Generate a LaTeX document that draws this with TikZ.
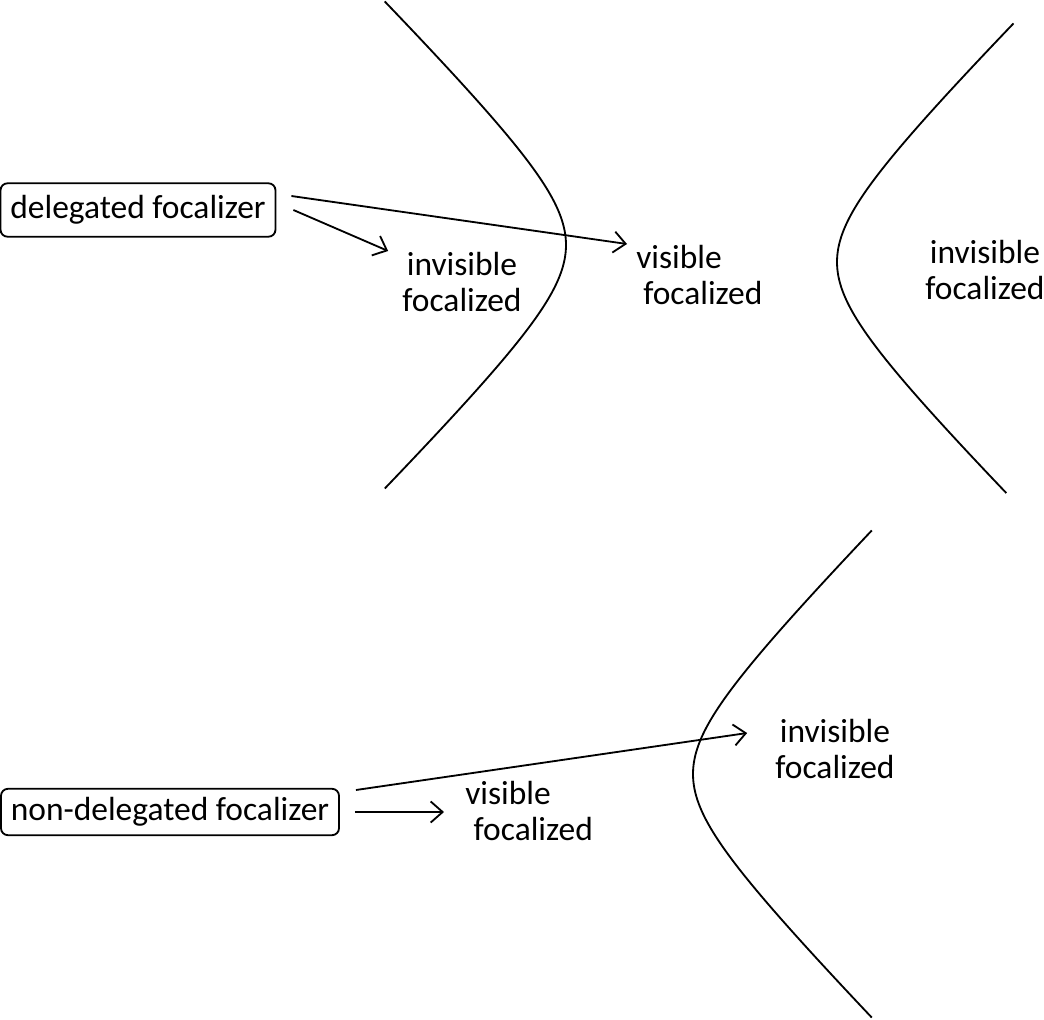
\documentclass[tikz,border=0pt]{standalone}
\usepackage{fontspec}
\setmainfont{Carlito}
\usetikzlibrary{arrows.meta,positioning}

\tikzset{
  focbox/.style={draw, line width=1.3pt, rounded corners=5pt, inner xsep=7pt,
    font=\fontsize{23.8pt}{25pt}\selectfont},
  foctext/.style={inner sep=0pt, align=center, font=\fontsize{23.8pt}{25pt}\selectfont},
  focarrow/.style={-{Straight Barb[length=8.5pt,width=15pt]}, line width=1.3pt},
  branch/.style={line width=1.3pt, smooth, samples=60, variable=\t, domain=-1.92:1.92}
}

\begin{document}
\begin{tikzpicture}[x=0.025cm,y=-0.025cm]
\useasboundingbox (0,0) rectangle (1044,1019);
% the three hyperbola branches
\draw[branch] plot ({566-73*(cosh(\t)-1)},{245+73*sinh(\t)});
\draw[branch, domain=-1.9:1.87] plot ({837+73*(cosh(\t)-1)},{262+73*sinh(\t)});
\draw[branch] plot ({693+72*(cosh(\t)-1)},{774+73*sinh(\t)});
% focalizers
\node[focbox, minimum height=38pt] (deleg) at (138,210) {delegated focalizer};
\node[focbox, minimum height=33pt] (nondeleg) at (170,812) {non-delegated focalizer};
% focalized
\node[foctext] (invtop) at (462,282) {invisible\\focalized};
\node[foctext, anchor=west, align=left] (vistop) at (636,275) {visible\\\hspace{5pt}focalized};
\node[foctext] (invright) at (985,270) {invisible\\focalized};
\node[foctext] (invlow) at (835,749) {invisible\\focalized};
\node[foctext, anchor=west, align=left] (vislow) at (465,811) {visible\\\hspace{6pt}focalized};
% arrows
\draw[focarrow] ([shift={(15,-14)}]deleg.east) -- ([shift={(-9,-31)}]vistop.west);
\draw[focarrow] ([shift={(17,0)}]deleg.east) -- ([shift={(-14,-31)}]invtop.west);
\draw[focarrow] ([shift={(16,-22)}]nondeleg.east) -- ([shift={(-28,-16)}]invlow.west);
\draw[focarrow] ([shift={(15,0)}]nondeleg.east) -- ([shift={(-21,1)}]vislow.west);
\end{tikzpicture}
\end{document}
